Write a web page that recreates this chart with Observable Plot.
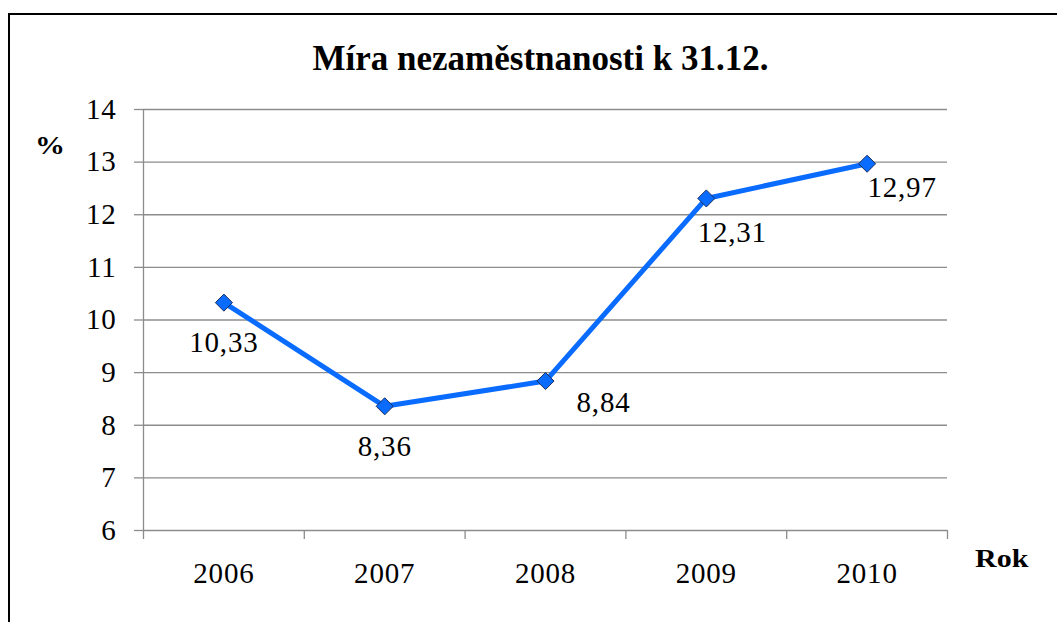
<!DOCTYPE html>
<html>
<head>
<meta charset="utf-8">
<script src="https://cdn.jsdelivr.net/npm/d3@7"></script>
<script src="https://cdn.jsdelivr.net/npm/@observablehq/plot@0.6"></script>
<style>
  html, body { margin: 0; padding: 0; background: #fff; width: 1057px; height: 622px; overflow: hidden; }
  #wrap { position: relative; width: 1057px; height: 622px; font-family: 'Liberation Serif', 'Times New Roman', serif; }
  #frame { position: absolute; left: 8px; top: 13px; width: 1100px; height: 700px; border: 2px solid #000; box-sizing: border-box; }
  #chart { position: absolute; left: 0; top: 0; }
  .lbl { position: absolute; font-weight: bold; color: #000; white-space: nowrap; line-height: 1; }
  #title { left: 0; width: 1081px; text-align: center; top: 41px; font-size: 35px; }
  #ylab { left: 35px; top: 133px; font-size: 25px; transform: scaleX(1.2); transform-origin: 0 0; }
  #xlab { left: 975px; top: 546px; font-size: 25px; transform: scaleX(1.2); transform-origin: 0 0; }
</style>
</head>
<body>
<div id="wrap">
  <div id="frame"></div>
  <div id="chart"></div>
  <div class="lbl" id="title">Míra nezaměstnanosti k 31.12.</div>
  <div class="lbl" id="ylab">%</div>
  <div class="lbl" id="xlab">Rok</div>
</div>
<script>
const years = [2006, 2007, 2008, 2009, 2010];
const rates = [10.33, 8.36, 8.84, 12.31, 12.97];
const yTicks = [6, 7, 8, 9, 10, 11, 12, 13, 14];
const xBounds = [2005.5, 2006.5, 2007.5, 2008.5, 2009.5, 2010.5];

const data = years.map((year, i) => ({year, rate: rates[i], i}));
const fmt = v => v.toFixed(2).replace(".", ",");
const gray = "#8c8c8c";
const blue = "#0a6cff";
const serif = "'Liberation Serif', 'Times New Roman', serif";

const labelOpts = {x: "year", y: "rate", text: d => fmt(d.rate), fontSize: 29, fontFamily: serif, fill: "#000"};

const chart = Plot.plot({
  width: 1057,
  height: 622,
  marginLeft: 143,
  marginRight: 110,
  marginTop: 109,
  marginBottom: 92,
  style: {fontFamily: serif, fontSize: "29px", letterSpacing: "0.8px", background: "transparent", color: "#000"},
  x: {type: "linear", domain: [2005.5, 2010.5]},
  y: {domain: [6, 14]},
  marks: [
    Plot.ruleY(yTicks, {stroke: gray, strokeWidth: 1.3}),
    Plot.axisY({ticks: yTicks, tickSize: 9, tickPadding: 18, stroke: gray, strokeWidth: 1.3, fontSize: 29, fontFamily: serif, label: null}),
    Plot.axisX({ticks: xBounds, tickSize: 9, tickFormat: () => "", stroke: gray, strokeWidth: 1.3, label: null}),
    Plot.axisX({ticks: years, tickSize: 0, tickPadding: 32, tickFormat: d => String(d), fontSize: 29, fontFamily: serif, label: null}),
    Plot.ruleX([2005.5], {y1: 6, y2: 14, stroke: gray, strokeWidth: 1.3}),
    Plot.line(data, {x: "year", y: "rate", stroke: blue, strokeWidth: 5}),
    Plot.dot(data, {x: "year", y: "rate", symbol: "diamond2", r: 7.7, fill: blue, stroke: "#1d2f5c", strokeWidth: 1}),
    Plot.text(data.filter(d => d.i === 0 || d.i === 1), {...labelOpts, dy: 40}),
    Plot.text(data.filter(d => d.i === 2), {...labelOpts, dx: 58, dy: 22}),
    Plot.text(data.filter(d => d.i === 3), {...labelOpts, dx: 26, dy: 34}),
    Plot.text(data.filter(d => d.i === 4), {...labelOpts, dx: 35, dy: 24})
  ]
});
document.getElementById("chart").appendChild(chart);
</script>
</body>
</html>
